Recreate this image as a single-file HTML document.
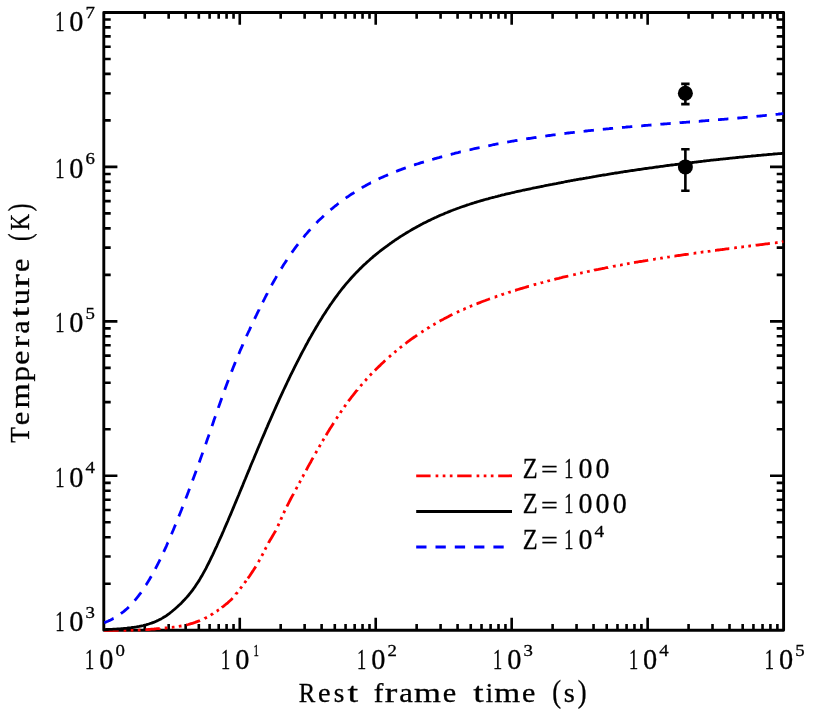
<!DOCTYPE html>
<html><head><meta charset="utf-8"><title>Temperature vs rest frame time</title>
<style>
html,body{margin:0;padding:0;background:#fff;}
body{width:814px;height:719px;overflow:hidden;}
svg{display:block;will-change:transform;}
text{font-family:"Liberation Serif",serif;fill:#000;stroke:#000;stroke-width:0.3px;}
</style></head><body>
<svg width="814" height="719" viewBox="0 0 814 719">
<rect width="814" height="719" fill="#fff"/>
<defs><clipPath id="c"><rect x="103.8" y="12.45" width="679.8000000000001" height="619.4"/></clipPath></defs>
<path d="M144.73,630.25V623.95M144.73,12.45V18.75M168.67,630.25V623.95M168.67,12.45V18.75M185.66,630.25V623.95M185.66,12.45V18.75M198.83,630.25V623.95M198.83,12.45V18.75M209.60,630.25V623.95M209.60,12.45V18.75M218.70,630.25V623.95M218.70,12.45V18.75M226.58,630.25V623.95M226.58,12.45V18.75M233.54,630.25V623.95M233.54,12.45V18.75M239.76,630.25V617.85M239.76,12.45V24.85M280.69,630.25V623.95M280.69,12.45V18.75M304.63,630.25V623.95M304.63,12.45V18.75M321.62,630.25V623.95M321.62,12.45V18.75M334.79,630.25V623.95M334.79,12.45V18.75M345.56,630.25V623.95M345.56,12.45V18.75M354.66,630.25V623.95M354.66,12.45V18.75M362.54,630.25V623.95M362.54,12.45V18.75M369.50,630.25V623.95M369.50,12.45V18.75M375.72,630.25V617.85M375.72,12.45V24.85M416.65,630.25V623.95M416.65,12.45V18.75M440.59,630.25V623.95M440.59,12.45V18.75M457.58,630.25V623.95M457.58,12.45V18.75M470.75,630.25V623.95M470.75,12.45V18.75M481.52,630.25V623.95M481.52,12.45V18.75M490.62,630.25V623.95M490.62,12.45V18.75M498.50,630.25V623.95M498.50,12.45V18.75M505.46,630.25V623.95M505.46,12.45V18.75M511.68,630.25V617.85M511.68,12.45V24.85M552.61,630.25V623.95M552.61,12.45V18.75M576.55,630.25V623.95M576.55,12.45V18.75M593.54,630.25V623.95M593.54,12.45V18.75M606.71,630.25V623.95M606.71,12.45V18.75M617.48,630.25V623.95M617.48,12.45V18.75M626.58,630.25V623.95M626.58,12.45V18.75M634.46,630.25V623.95M634.46,12.45V18.75M641.42,630.25V623.95M641.42,12.45V18.75M647.64,630.25V617.85M647.64,12.45V24.85M688.57,630.25V623.95M688.57,12.45V18.75M712.51,630.25V623.95M712.51,12.45V18.75M729.50,630.25V623.95M729.50,12.45V18.75M742.67,630.25V623.95M742.67,12.45V18.75M753.44,630.25V623.95M753.44,12.45V18.75M762.54,630.25V623.95M762.54,12.45V18.75M770.42,630.25V623.95M770.42,12.45V18.75M777.38,630.25V623.95M777.38,12.45V18.75M103.8,583.76H110.70M783.6,583.76H776.70M103.8,556.56H110.70M783.6,556.56H776.70M103.8,537.26H110.70M783.6,537.26H776.70M103.8,522.29H110.70M783.6,522.29H776.70M103.8,510.06H110.70M783.6,510.06H776.70M103.8,499.72H110.70M783.6,499.72H776.70M103.8,490.77H110.70M783.6,490.77H776.70M103.8,482.87H110.70M783.6,482.87H776.70M103.8,475.80H117.40M783.6,475.80H770.00M103.8,429.31H110.70M783.6,429.31H776.70M103.8,402.11H110.70M783.6,402.11H776.70M103.8,382.81H110.70M783.6,382.81H776.70M103.8,367.84H110.70M783.6,367.84H776.70M103.8,355.61H110.70M783.6,355.61H776.70M103.8,345.27H110.70M783.6,345.27H776.70M103.8,336.32H110.70M783.6,336.32H776.70M103.8,328.42H110.70M783.6,328.42H776.70M103.8,321.35H117.40M783.6,321.35H770.00M103.8,274.86H110.70M783.6,274.86H776.70M103.8,247.66H110.70M783.6,247.66H776.70M103.8,228.36H110.70M783.6,228.36H776.70M103.8,213.39H110.70M783.6,213.39H776.70M103.8,201.16H110.70M783.6,201.16H776.70M103.8,190.82H110.70M783.6,190.82H776.70M103.8,181.87H110.70M783.6,181.87H776.70M103.8,173.97H110.70M783.6,173.97H776.70M103.8,166.90H117.40M783.6,166.90H770.00M103.8,120.41H110.70M783.6,120.41H776.70M103.8,93.21H110.70M783.6,93.21H776.70M103.8,73.91H110.70M783.6,73.91H776.70M103.8,58.94H110.70M783.6,58.94H776.70M103.8,46.71H110.70M783.6,46.71H776.70M103.8,36.37H110.70M783.6,36.37H776.70M103.8,27.42H110.70M783.6,27.42H776.70M103.8,19.52H110.70M783.6,19.52H776.70" stroke="#000" stroke-width="2.6" fill="none"/>
<rect x="103.8" y="12.45" width="679.8000000000001" height="617.8" fill="none" stroke="#000" stroke-width="2.9" stroke-linejoin="round"/>
<g clip-path="url(#c)" fill="none" stroke-width="2.8" stroke-linejoin="round">
<path d="M104.2,630.7L105.2,630.7L106.5,630.7L107.9,630.7L109.2,630.7L110.6,630.7L112.0,630.7L113.3,630.7L114.7,630.6L116.1,630.6L117.4,630.6L118.6,630.6M123.6,630.5L124.2,630.5L125.6,630.5L126.3,630.5M130.7,630.4L131.0,630.4L132.4,630.3L133.4,630.3M137.8,630.1L137.9,630.1L139.2,630.1L140.5,630.0M145.4,629.7L146.0,629.7L147.4,629.6L148.8,629.5L150.1,629.4L151.5,629.2L152.8,629.1L154.2,629.0L155.6,628.8L156.9,628.7L158.3,628.6L159.7,628.5L159.7,628.4M164.7,628.0L165.1,628.0L166.5,627.9L167.4,627.8M171.8,627.4L171.9,627.4L173.3,627.2L174.5,627.1M178.8,626.4L180.1,626.2L181.5,626.0L181.5,626.0M186.3,625.0L186.9,624.8L188.3,624.5L189.6,624.1L191.0,623.7L192.4,623.3L193.7,622.9L195.1,622.4L196.4,621.9L197.8,621.4L199.2,620.9L200.0,620.5M204.5,618.5L204.6,618.4L206.0,617.7L206.9,617.2M210.7,615.1L211.4,614.6L212.8,613.8L213.0,613.6M216.7,611.2L216.9,611.1L218.2,610.1L218.9,609.7M221.8,607.6L222.3,607.1L223.7,606.1L225.0,605.0L226.4,603.9L227.8,602.8L229.1,601.5L230.5,600.3L231.9,598.9L232.6,598.1M235.9,594.3L235.9,594.2L237.3,592.5L237.5,592.2M240.2,588.7L241.4,587.1L241.8,586.5M244.5,583.0L245.5,581.7L246.1,580.8M247.8,578.4L248.2,577.9L249.6,576.0L250.9,574.0L252.3,571.9L253.7,569.8L255.0,567.7L255.8,566.4M258.4,562.1L259.1,560.8L259.7,559.8M261.8,555.9L261.8,555.9L263.1,553.5M265.0,549.6L265.9,547.9L266.3,547.2M268.5,543.0L268.6,542.7L270.0,540.3L271.4,538.0L272.7,535.8L274.1,533.4L275.5,531.0L275.7,530.6M277.9,526.1L278.2,525.4L279.0,523.6M280.8,519.6L280.9,519.3L281.9,517.1M283.7,513.1L284.8,510.7M286.9,506.5L287.7,504.8L289.1,502.1L290.4,499.5L291.8,496.9L293.2,494.4L293.5,493.7M295.9,489.3L297.2,486.9M299.3,483.0L300.0,481.7L300.5,480.7M302.6,476.8L302.7,476.7L303.9,474.4M306.2,470.3L306.8,469.1L308.1,466.6L309.5,464.1L310.9,461.7L312.2,459.2L313.1,457.7M315.6,453.3L316.3,451.9L316.9,451.0M319.1,447.1L320.4,444.8L320.4,444.8M322.6,441.0L323.1,440.1L324.0,438.7M326.1,435.2L327.2,433.3L328.6,431.1L329.9,428.8L331.3,426.7L332.7,424.5L333.6,423.0M336.3,418.8L336.8,418.1L337.8,416.5M340.3,412.9L340.8,412.0L341.8,410.6M344.3,407.0L344.9,406.1L345.8,404.8M348.4,401.3L349.0,400.4L350.4,398.6L351.7,396.8L353.1,395.1L354.5,393.3L355.8,391.6L357.2,390.0L357.2,389.9M360.4,386.1L361.3,385.1L362.2,384.1M365.1,380.8L365.4,380.5L366.7,379.0L366.9,378.8M369.9,375.5L370.8,374.6L371.8,373.6M374.9,370.4L374.9,370.4L376.3,369.0L377.6,367.7L379.0,366.4L380.4,365.1L381.7,363.8L383.1,362.5L384.4,361.2L385.3,360.5M389.0,357.1L389.9,356.3L391.0,355.3M394.4,352.5L395.3,351.7L396.4,350.8M399.8,348.0L400.8,347.2L402.0,346.3M405.4,343.6L406.2,343.0L407.6,341.9L409.0,340.9L410.3,339.9L411.7,338.9L413.0,338.0L414.4,337.0L415.8,336.1L417.1,335.1M421.3,332.3L422.6,331.5L423.5,330.9M427.2,328.5L428.0,328.0L429.4,327.2L429.5,327.1M433.3,324.8L433.5,324.7L434.8,323.9L435.6,323.5M439.6,321.2L440.3,320.8L441.7,320.1L443.0,319.4L444.4,318.6L445.7,317.9L447.1,317.2L448.5,316.5L449.8,315.8L451.2,315.1L452.4,314.5M456.9,312.4L458.0,311.8L459.3,311.2M463.3,309.4L463.5,309.4L464.8,308.7L465.8,308.3M469.8,306.6L470.3,306.4L471.6,305.8L472.3,305.6M476.5,303.8L477.1,303.6L478.4,303.1L479.8,302.6L481.2,302.0L482.5,301.5L483.9,301.0L485.3,300.5L486.6,300.0L488.0,299.5L489.3,299.0L490.0,298.8M494.7,297.1L494.8,297.1L496.1,296.6L497.3,296.2M501.4,294.8L501.6,294.7L503.0,294.3L504.0,293.9M508.2,292.6L508.4,292.5L509.8,292.1L510.8,291.8M515.1,290.4L515.2,290.4L516.6,289.9L517.9,289.5L519.3,289.1L520.7,288.7L522.0,288.3L523.4,287.9L524.8,287.5L526.1,287.1L527.5,286.7L528.8,286.3L528.9,286.3M533.7,284.9L534.3,284.7L535.7,284.3L536.3,284.2M540.6,283.0L541.1,282.8L542.5,282.5L543.2,282.3M547.4,281.2L547.9,281.0L549.3,280.7L550.0,280.5M554.3,279.4L554.7,279.3L556.1,278.9L557.5,278.6L558.8,278.3L560.2,277.9L561.5,277.6L562.9,277.2L564.3,276.9L565.6,276.6L567.0,276.3L568.3,276.0M573.2,274.8L573.8,274.7L575.2,274.4L575.8,274.2M580.1,273.2L580.6,273.1L582.0,272.8L582.7,272.7M587.0,271.7L587.4,271.6L588.8,271.4L589.7,271.2M594.0,270.3L594.2,270.2L595.6,269.9L597.0,269.6L598.3,269.4L599.7,269.1L601.0,268.8L602.4,268.5L603.8,268.3L605.1,268.0L606.5,267.7L607.9,267.5L608.1,267.4M613.0,266.5L613.3,266.4L614.7,266.1L615.7,266.0M620.0,265.1L620.1,265.1L621.5,264.9L622.7,264.7M627.0,263.9L628.3,263.6L629.6,263.4M634.0,262.6L635.1,262.4L636.5,262.2L637.8,262.0L639.2,261.7L640.6,261.5L641.9,261.3L643.3,261.0L644.6,260.8L646.0,260.6L647.4,260.4L648.2,260.2M653.1,259.4L654.2,259.3L655.5,259.0L655.8,259.0M660.2,258.3L661.0,258.2L662.4,258.0L662.8,257.9M667.2,257.2L667.8,257.1L669.2,256.9L669.8,256.8M674.4,256.1L674.6,256.1L676.0,255.9L677.3,255.7L678.7,255.5L680.1,255.3L681.4,255.1L682.8,254.9L684.2,254.7L685.5,254.5L686.9,254.3L688.2,254.1L688.7,254.0M693.6,253.3L693.7,253.3L695.0,253.1L696.3,253.0M700.7,252.4L701.9,252.2L703.2,252.0L703.4,252.0M707.7,251.4L708.7,251.3L710.0,251.1L710.4,251.0M715.0,250.4L715.5,250.4L716.8,250.2L718.2,250.0L719.6,249.8L720.9,249.6L722.3,249.5L723.7,249.3L725.0,249.1L726.4,248.9L727.7,248.8L729.1,248.6L729.3,248.6M734.2,247.9L734.6,247.9L735.9,247.7L736.9,247.6M741.3,247.0L741.4,247.0L742.7,246.8L744.0,246.7M748.3,246.1L749.5,246.0L750.9,245.8L751.0,245.8M755.6,245.2L756.4,245.1L757.7,245.0L759.1,244.8L760.4,244.6L761.8,244.5L763.2,244.3L764.5,244.1L765.9,243.9L767.3,243.8L768.6,243.6L769.9,243.4M774.9,242.8L775.4,242.8L776.8,242.6L777.6,242.5M781.9,242.0L782.2,241.9L783.6,241.7" stroke="#ff0000"/>
<path d="M104.2,622.7L105.2,622.4L106.5,621.8L107.9,621.2L109.2,620.6L110.6,620.0L112.0,619.3L113.3,618.5L113.6,618.4M120.9,613.7L121.5,613.2L122.9,612.2L124.2,611.1L125.6,609.9L127.0,608.7L128.3,607.4L128.8,606.9M134.7,600.6L135.1,600.1L136.5,598.4L137.9,596.7L139.2,594.9L140.6,593.1L141.1,592.4M145.9,585.1L146.0,585.0L147.4,582.8L148.8,580.6L150.1,578.3L151.3,576.2M155.4,568.8L155.6,568.4L156.9,565.8L158.3,563.1L159.7,560.3L160.1,559.5M163.7,551.8L163.7,551.8L165.1,548.8L166.5,545.8L167.8,542.7L168.0,542.4M171.5,534.2L171.9,533.3L173.3,530.0L174.6,526.8L175.5,524.6M178.8,516.4L180.1,513.3L181.5,509.8L182.6,506.8M185.8,498.5L186.9,495.7L188.3,492.1L189.5,488.8M192.6,480.5L193.7,477.5L195.1,473.8L196.2,470.7M199.2,462.4L200.5,458.8L201.9,454.9L202.7,452.6M205.7,444.3L206.0,443.4L207.3,439.5L208.7,435.6L209.1,434.5M212.0,426.1L212.8,423.8L214.1,419.8L215.4,416.3M218.3,407.9L219.6,404.2L221.0,400.3L221.8,398.1M224.8,389.8L225.0,389.0L226.4,385.3L227.8,381.6L228.4,380.0M231.5,371.8L231.9,370.9L233.2,367.5L234.6,364.1L235.4,362.1M238.8,353.9L240.0,350.9L241.4,347.8L242.8,344.7L242.9,344.4M246.5,336.3L246.8,335.5L248.2,332.5L249.6,329.6L250.8,326.8M254.6,318.9L255.0,318.0L256.4,315.2L257.7,312.4L259.1,309.6L259.1,309.5M262.7,302.3L263.2,301.4L264.6,298.7L265.9,296.0L267.3,293.4L267.4,293.1M271.6,285.3L272.7,283.2L274.1,280.8L275.5,278.4L276.7,276.2M281.2,268.6L282.3,267.0L283.6,264.8L285.0,262.7L286.4,260.6L286.8,259.9M291.8,252.6L293.2,250.7L294.5,248.8L295.9,246.9L297.3,245.1L298.0,244.2M303.5,237.3L304.1,236.6L305.4,234.9L306.8,233.4L308.1,231.8L309.5,230.3L310.3,229.4M316.4,223.0L317.7,221.6L319.0,220.3L320.4,219.0L321.8,217.7L323.1,216.4L323.8,215.7M330.5,209.9L331.3,209.2L332.7,208.1L334.0,207.0L335.4,205.9L336.8,204.8L338.1,203.7L338.6,203.4M345.7,198.1L346.3,197.7L347.7,196.8L349.0,195.9L350.4,194.9L351.7,194.0L353.1,193.2L354.4,192.4M361.8,187.9L362.6,187.3L364.0,186.6L365.4,185.8L366.7,185.0L368.1,184.3L369.5,183.6L370.8,182.8L370.9,182.8M378.6,179.0L379.0,178.8L380.4,178.1L381.7,177.5L383.1,176.9L384.4,176.3L385.8,175.7L387.2,175.1L388.1,174.7M396.1,171.4L396.7,171.2L398.1,170.6L399.4,170.1L400.8,169.6L402.1,169.1L403.5,168.6L404.9,168.1L405.8,167.8M414.0,165.0L414.4,164.9L415.8,164.4L417.1,164.0L418.5,163.6L419.9,163.1L421.2,162.7L422.6,162.3L423.9,161.9M432.2,159.4L433.5,159.1L434.8,158.7L436.2,158.3L437.6,157.9L438.9,157.6L440.3,157.2L441.7,156.8L442.2,156.7M450.7,154.4L451.2,154.3L452.6,153.9L453.9,153.6L455.3,153.2L456.6,152.9L458.0,152.6L459.4,152.2L460.7,151.9L460.8,151.9M469.5,149.8L470.3,149.7L471.6,149.4L473.0,149.0L474.4,148.7L475.7,148.4L477.1,148.1L478.4,147.8L479.6,147.6M488.3,145.8L489.3,145.6L490.7,145.3L492.1,145.0L493.4,144.7L494.8,144.5L496.1,144.2L497.5,143.9L498.5,143.8M507.2,142.1L508.4,141.9L509.8,141.7L511.1,141.4L512.5,141.2L513.9,141.0L515.2,140.7L516.6,140.5L517.5,140.3M526.2,138.9L527.5,138.7L528.8,138.5L530.2,138.3L531.6,138.1L532.9,137.9L534.3,137.7L535.7,137.5L536.5,137.3M545.3,136.1L546.6,135.9L547.9,135.7L549.3,135.5L550.6,135.3L552.0,135.1L553.4,134.9L554.7,134.8L555.6,134.7M564.4,133.5L565.6,133.4L567.0,133.2L568.4,133.0L569.7,132.9L571.1,132.7L572.4,132.6L573.8,132.4L574.8,132.3M583.6,131.3L584.7,131.2L586.1,131.0L587.4,130.9L588.8,130.7L590.1,130.6L591.5,130.4L592.9,130.3L593.9,130.2M602.8,129.3L603.8,129.2L605.1,129.1L606.5,128.9L607.9,128.8L609.2,128.7L610.6,128.5L611.9,128.4L613.1,128.3M622.0,127.5L622.8,127.4L624.2,127.3L625.6,127.2L626.9,127.0L628.3,126.9L629.7,126.8L631.0,126.7L632.3,126.6M641.2,125.8L641.9,125.8L643.3,125.6L644.6,125.5L646.0,125.4L647.4,125.3L648.7,125.2L650.1,125.1L651.5,125.0L651.5,125.0M660.4,124.3L661.0,124.2L662.4,124.1L663.7,124.0L665.1,123.9L666.4,123.8L667.8,123.7L669.2,123.6L670.5,123.5L670.7,123.5M679.6,122.8L680.1,122.7L681.4,122.6L682.8,122.5L684.2,122.4L685.5,122.3L686.9,122.2L688.2,122.1L689.6,122.0L690.0,122.0M698.8,121.3L699.1,121.3L700.5,121.1L701.9,121.0L703.2,120.9L704.6,120.8L705.9,120.7L707.3,120.6L708.7,120.5L709.2,120.5M718.0,119.7L718.2,119.7L719.6,119.6L720.9,119.5L722.3,119.4L723.7,119.3L725.0,119.2L726.4,119.1L727.7,118.9L728.4,118.9M737.3,118.1L737.3,118.1L738.6,118.0L740.0,117.9L741.4,117.8L742.7,117.6L744.1,117.5L745.5,117.4L746.8,117.3L747.6,117.2M756.5,116.4L757.7,116.2L759.1,116.1L760.4,116.0L761.8,115.9L763.2,115.7L764.5,115.6L765.9,115.4L766.8,115.4M775.6,114.4L776.8,114.3L778.2,114.2L779.5,114.0L780.9,113.9L782.2,113.7L783.6,113.6" stroke="#0000ff"/>
<path d="M103.8,629.6 L105.2,629.6 L106.5,629.5 L107.9,629.5 L109.2,629.4 L110.6,629.3 L112.0,629.3 L113.3,629.2 L114.7,629.1 L116.1,629.1 L117.4,629.0 L118.8,628.9 L120.1,628.8 L121.5,628.7 L122.9,628.6 L124.2,628.4 L125.6,628.3 L127.0,628.2 L128.3,628.0 L129.7,627.8 L131.0,627.7 L132.4,627.5 L133.8,627.3 L135.1,627.1 L136.5,626.9 L137.9,626.6 L139.2,626.4 L140.6,626.1 L141.9,625.8 L143.3,625.5 L144.7,625.1 L146.0,624.8 L147.4,624.4 L148.8,624.0 L150.1,623.5 L151.5,623.1 L152.8,622.6 L154.2,622.1 L155.6,621.5 L156.9,620.9 L158.3,620.3 L159.7,619.6 L161.0,618.9 L162.4,618.1 L163.7,617.3 L165.1,616.5 L166.5,615.6 L167.8,614.6 L169.2,613.6 L170.6,612.5 L171.9,611.5 L173.3,610.3 L174.6,609.2 L176.0,608.0 L177.4,606.8 L178.7,605.5 L180.1,604.3 L181.5,602.9 L182.8,601.5 L184.2,600.1 L185.5,598.6 L186.9,597.1 L188.3,595.5 L189.6,593.9 L191.0,592.2 L192.4,590.4 L193.7,588.5 L195.1,586.6 L196.4,584.6 L197.8,582.5 L199.2,580.4 L200.5,578.1 L201.9,575.8 L203.2,573.4 L204.6,570.9 L206.0,568.3 L207.3,565.7 L208.7,563.0 L210.1,560.2 L211.4,557.4 L212.8,554.6 L214.1,551.7 L215.5,548.7 L216.9,545.8 L218.2,542.8 L219.6,539.7 L221.0,536.7 L222.3,533.6 L223.7,530.5 L225.0,527.3 L226.4,524.2 L227.8,521.0 L229.1,517.8 L230.5,514.6 L231.9,511.3 L233.2,508.1 L234.6,504.8 L235.9,501.6 L237.3,498.3 L238.7,495.0 L240.0,491.7 L241.4,488.4 L242.8,485.1 L244.1,481.8 L245.5,478.5 L246.8,475.2 L248.2,471.9 L249.6,468.6 L250.9,465.3 L252.3,462.0 L253.7,458.8 L255.0,455.5 L256.4,452.2 L257.7,449.0 L259.1,445.7 L260.5,442.5 L261.8,439.3 L263.2,436.1 L264.6,432.9 L265.9,429.7 L267.3,426.6 L268.6,423.4 L270.0,420.3 L271.4,417.2 L272.7,414.1 L274.1,411.0 L275.5,407.9 L276.8,404.9 L278.2,401.9 L279.5,398.9 L280.9,395.9 L282.3,392.9 L283.6,390.0 L285.0,387.1 L286.4,384.2 L287.7,381.3 L289.1,378.5 L290.4,375.7 L291.8,372.9 L293.2,370.1 L294.5,367.4 L295.9,364.6 L297.3,361.9 L298.6,359.3 L300.0,356.6 L301.3,354.0 L302.7,351.4 L304.1,348.8 L305.4,346.3 L306.8,343.8 L308.1,341.3 L309.5,338.8 L310.9,336.4 L312.2,334.0 L313.6,331.6 L315.0,329.3 L316.3,327.0 L317.7,324.7 L319.0,322.4 L320.4,320.2 L321.8,318.0 L323.1,315.8 L324.5,313.7 L325.9,311.6 L327.2,309.5 L328.6,307.5 L329.9,305.4 L331.3,303.5 L332.7,301.5 L334.0,299.6 L335.4,297.7 L336.8,295.8 L338.1,294.0 L339.5,292.2 L340.8,290.5 L342.2,288.7 L343.6,287.0 L344.9,285.4 L346.3,283.7 L347.7,282.1 L349.0,280.6 L350.4,279.0 L351.7,277.5 L353.1,276.0 L354.5,274.5 L355.8,273.1 L357.2,271.7 L358.6,270.3 L359.9,268.9 L361.3,267.6 L362.6,266.2 L364.0,264.9 L365.4,263.7 L366.7,262.4 L368.1,261.2 L369.5,260.0 L370.8,258.8 L372.2,257.6 L373.5,256.4 L374.9,255.3 L376.3,254.2 L377.6,253.1 L379.0,252.0 L380.4,250.9 L381.7,249.9 L383.1,248.8 L384.4,247.8 L385.8,246.8 L387.2,245.8 L388.5,244.8 L389.9,243.8 L391.3,242.9 L392.6,241.9 L394.0,241.0 L395.3,240.0 L396.7,239.1 L398.1,238.2 L399.4,237.3 L400.8,236.4 L402.1,235.6 L403.5,234.7 L404.9,233.9 L406.2,233.0 L407.6,232.2 L409.0,231.4 L410.3,230.6 L411.7,229.8 L413.0,229.0 L414.4,228.2 L415.8,227.5 L417.1,226.7 L418.5,226.0 L419.9,225.2 L421.2,224.5 L422.6,223.8 L423.9,223.1 L425.3,222.4 L426.7,221.7 L428.0,221.0 L429.4,220.4 L430.8,219.7 L432.1,219.1 L433.5,218.4 L434.8,217.8 L436.2,217.2 L437.6,216.5 L438.9,215.9 L440.3,215.3 L441.7,214.7 L443.0,214.2 L444.4,213.6 L445.7,213.0 L447.1,212.5 L448.5,211.9 L449.8,211.4 L451.2,210.8 L452.6,210.3 L453.9,209.8 L455.3,209.3 L456.6,208.8 L458.0,208.3 L459.4,207.8 L460.7,207.3 L462.1,206.8 L463.5,206.3 L464.8,205.9 L466.2,205.4 L467.5,204.9 L468.9,204.5 L470.3,204.0 L471.6,203.6 L473.0,203.2 L474.4,202.7 L475.7,202.3 L477.1,201.9 L478.4,201.5 L479.8,201.1 L481.2,200.7 L482.5,200.3 L483.9,199.9 L485.3,199.5 L486.6,199.1 L488.0,198.8 L489.3,198.4 L490.7,198.0 L492.1,197.7 L493.4,197.3 L494.8,197.0 L496.1,196.6 L497.5,196.3 L498.9,195.9 L500.2,195.6 L501.6,195.2 L503.0,194.9 L504.3,194.6 L505.7,194.2 L507.0,193.9 L508.4,193.6 L509.8,193.3 L511.1,193.0 L512.5,192.7 L513.9,192.4 L515.2,192.0 L516.6,191.7 L517.9,191.4 L519.3,191.1 L520.7,190.8 L522.0,190.5 L523.4,190.2 L524.8,190.0 L526.1,189.7 L527.5,189.4 L528.8,189.1 L530.2,188.8 L531.6,188.5 L532.9,188.2 L534.3,187.9 L535.7,187.7 L537.0,187.4 L538.4,187.1 L539.7,186.8 L541.1,186.5 L542.5,186.3 L543.8,186.0 L545.2,185.7 L546.6,185.4 L547.9,185.2 L549.3,184.9 L550.6,184.6 L552.0,184.4 L553.4,184.1 L554.7,183.8 L556.1,183.6 L557.5,183.3 L558.8,183.0 L560.2,182.8 L561.5,182.5 L562.9,182.3 L564.3,182.0 L565.6,181.7 L567.0,181.5 L568.4,181.2 L569.7,181.0 L571.1,180.7 L572.4,180.5 L573.8,180.2 L575.2,180.0 L576.5,179.7 L577.9,179.5 L579.3,179.2 L580.6,179.0 L582.0,178.8 L583.3,178.5 L584.7,178.3 L586.1,178.0 L587.4,177.8 L588.8,177.6 L590.1,177.3 L591.5,177.1 L592.9,176.8 L594.2,176.6 L595.6,176.4 L597.0,176.1 L598.3,175.9 L599.7,175.7 L601.0,175.5 L602.4,175.2 L603.8,175.0 L605.1,174.8 L606.5,174.6 L607.9,174.3 L609.2,174.1 L610.6,173.9 L611.9,173.7 L613.3,173.5 L614.7,173.2 L616.0,173.0 L617.4,172.8 L618.8,172.6 L620.1,172.4 L621.5,172.2 L622.8,172.0 L624.2,171.7 L625.6,171.5 L626.9,171.3 L628.3,171.1 L629.7,170.9 L631.0,170.7 L632.4,170.5 L633.7,170.3 L635.1,170.1 L636.5,169.9 L637.8,169.7 L639.2,169.5 L640.6,169.3 L641.9,169.1 L643.3,168.9 L644.6,168.7 L646.0,168.5 L647.4,168.3 L648.7,168.1 L650.1,167.9 L651.5,167.8 L652.8,167.6 L654.2,167.4 L655.5,167.2 L656.9,167.0 L658.3,166.8 L659.6,166.6 L661.0,166.4 L662.4,166.3 L663.7,166.1 L665.1,165.9 L666.4,165.7 L667.8,165.5 L669.2,165.4 L670.5,165.2 L671.9,165.0 L673.3,164.8 L674.6,164.7 L676.0,164.5 L677.3,164.3 L678.7,164.1 L680.1,164.0 L681.4,163.8 L682.8,163.6 L684.2,163.4 L685.5,163.3 L686.9,163.1 L688.2,162.9 L689.6,162.8 L691.0,162.6 L692.3,162.5 L693.7,162.3 L695.0,162.1 L696.4,162.0 L697.8,161.8 L699.1,161.6 L700.5,161.5 L701.9,161.3 L703.2,161.2 L704.6,161.0 L705.9,160.9 L707.3,160.7 L708.7,160.6 L710.0,160.4 L711.4,160.2 L712.8,160.1 L714.1,159.9 L715.5,159.8 L716.8,159.6 L718.2,159.5 L719.6,159.3 L720.9,159.2 L722.3,159.1 L723.7,158.9 L725.0,158.8 L726.4,158.6 L727.7,158.5 L729.1,158.3 L730.5,158.2 L731.8,158.1 L733.2,157.9 L734.6,157.8 L735.9,157.6 L737.3,157.5 L738.6,157.4 L740.0,157.2 L741.4,157.1 L742.7,157.0 L744.1,156.8 L745.5,156.7 L746.8,156.6 L748.2,156.4 L749.5,156.3 L750.9,156.2 L752.3,156.0 L753.6,155.9 L755.0,155.8 L756.4,155.6 L757.7,155.5 L759.1,155.4 L760.4,155.3 L761.8,155.1 L763.2,155.0 L764.5,154.9 L765.9,154.8 L767.3,154.6 L768.6,154.5 L770.0,154.4 L771.3,154.3 L772.7,154.2 L774.1,154.0 L775.4,153.9 L776.8,153.8 L778.2,153.7 L779.5,153.6 L780.9,153.5 L782.2,153.3 L783.6,153.2" stroke="#000"/>
</g>
<path d="M685.38,83.83V104.11M681.18,83.83H689.58M681.18,104.11H689.58M685.38,149.30V190.82M681.18,149.30H689.58M681.18,190.82H689.58" stroke="#000" stroke-width="2.6" fill="none"/>
<circle cx="685.38" cy="93.21" r="7.5" fill="#000"/>
<circle cx="685.38" cy="166.90" r="7.5" fill="#000"/>
<g>
<text transform="translate(85.05,669.00) scale(0.634,1.0)" font-size="29">1</text><text transform="translate(99.25,669.00) scale(0.979,1.0)" font-size="29">0</text><text transform="translate(115.50,655.70) scale(1.087,1.0)" font-size="17.3">0</text>
<text transform="translate(221.01,669.00) scale(0.634,1.0)" font-size="29">1</text><text transform="translate(235.21,669.00) scale(0.979,1.0)" font-size="29">0</text><text transform="translate(253.46,655.70) scale(0.624,1.0)" font-size="17.3">1</text>
<text transform="translate(356.97,669.00) scale(0.634,1.0)" font-size="29">1</text><text transform="translate(371.17,669.00) scale(0.979,1.0)" font-size="29">0</text><text transform="translate(387.42,655.70) scale(1.087,1.0)" font-size="17.3">2</text>
<text transform="translate(492.93,669.00) scale(0.634,1.0)" font-size="29">1</text><text transform="translate(507.13,669.00) scale(0.979,1.0)" font-size="29">0</text><text transform="translate(523.38,655.70) scale(1.087,1.0)" font-size="17.3">3</text>
<text transform="translate(628.89,669.00) scale(0.634,1.0)" font-size="29">1</text><text transform="translate(643.09,669.00) scale(0.979,1.0)" font-size="29">0</text><text transform="translate(659.34,655.70) scale(1.087,1.0)" font-size="17.3">4</text>
<text transform="translate(764.85,669.00) scale(0.634,1.0)" font-size="29">1</text><text transform="translate(779.05,669.00) scale(0.979,1.0)" font-size="29">0</text><text transform="translate(795.30,655.70) scale(1.087,1.0)" font-size="17.3">5</text>
<text transform="translate(55.15,631.00) scale(0.634,1.0)" font-size="29">1</text><text transform="translate(69.35,631.00) scale(0.979,1.0)" font-size="29">0</text><text transform="translate(85.60,617.70) scale(1.087,1.0)" font-size="17.3">3</text>
<text transform="translate(55.15,486.60) scale(0.634,1.0)" font-size="29">1</text><text transform="translate(69.35,486.60) scale(0.979,1.0)" font-size="29">0</text><text transform="translate(85.60,473.30) scale(1.087,1.0)" font-size="17.3">4</text>
<text transform="translate(55.15,332.15) scale(0.634,1.0)" font-size="29">1</text><text transform="translate(69.35,332.15) scale(0.979,1.0)" font-size="29">0</text><text transform="translate(85.60,318.85) scale(1.087,1.0)" font-size="17.3">5</text>
<text transform="translate(55.15,177.70) scale(0.634,1.0)" font-size="29">1</text><text transform="translate(69.35,177.70) scale(0.979,1.0)" font-size="29">0</text><text transform="translate(85.60,164.40) scale(1.087,1.0)" font-size="17.3">6</text>
<text transform="translate(55.15,30.80) scale(0.634,1.0)" font-size="29">1</text><text transform="translate(69.35,30.80) scale(0.979,1.0)" font-size="29">0</text><text transform="translate(85.60,17.50) scale(1.087,1.0)" font-size="17.3">7</text>
</g>
<g style="stroke-width:0.1px">
<text transform="translate(298.75,701.50) scale(0.883,1.0)" font-size="28.0">R</text>
<text transform="translate(317.95,701.50) scale(1.011,1.0)" font-size="28.0">e</text>
<text transform="translate(333.65,701.50) scale(0.971,1.0)" font-size="28.0">s</text>
<text transform="translate(347.45,701.50) scale(1.364,1.0)" font-size="28.0">t</text>
<text transform="translate(373.75,701.50) scale(1.034,1.0)" font-size="28.0">f</text>
<text transform="translate(384.75,701.50) scale(1.343,1.0)" font-size="28.0">r</text>
<text transform="translate(399.15,701.50) scale(1.091,1.0)" font-size="28.0">a</text>
<text transform="translate(414.05,701.50) scale(1.236,1.0)" font-size="28.0">m</text>
<text transform="translate(442.85,701.50) scale(1.083,1.0)" font-size="28.0">e</text>
<text transform="translate(473.25,701.50) scale(1.338,1.0)" font-size="28.0">t</text>
<text transform="translate(485.65,701.50) scale(0.940,1.0)" font-size="28.0">i</text>
<text transform="translate(494.15,701.50) scale(1.190,1.0)" font-size="28.0">m</text>
<text transform="translate(522.05,701.50) scale(1.075,1.0)" font-size="28.0">e</text>
<text transform="translate(552.25,702.30) scale(0.945,1.15)" font-size="28.0">(</text>
<text transform="translate(563.85,701.50) scale(1.016,1.0)" font-size="28.0">s</text>
<text transform="translate(577.75,702.30) scale(0.945,1.15)" font-size="28.0">)</text>
<text transform="translate(29.20,442.65) rotate(-90) scale(0.913,1.0)" font-size="28.0">T</text>
<text transform="translate(29.20,425.25) rotate(-90) scale(1.083,1.0)" font-size="28.0">e</text>
<text transform="translate(29.20,408.55) rotate(-90) scale(1.162,1.0)" font-size="28.0">m</text>
<text transform="translate(29.20,381.45) rotate(-90) scale(1.114,1.0)" font-size="28.0">p</text>
<text transform="translate(29.20,364.75) rotate(-90) scale(1.140,1.0)" font-size="28.0">e</text>
<text transform="translate(29.20,347.55) rotate(-90) scale(1.235,1.0)" font-size="28.0">r</text>
<text transform="translate(29.20,333.55) rotate(-90) scale(1.027,1.0)" font-size="28.0">a</text>
<text transform="translate(29.20,317.25) rotate(-90) scale(1.300,1.0)" font-size="28.0">t</text>
<text transform="translate(29.20,305.15) rotate(-90) scale(1.164,1.0)" font-size="28.0">u</text>
<text transform="translate(29.20,287.65) rotate(-90) scale(1.450,1.0)" font-size="28.0">r</text>
<text transform="translate(29.20,272.05) rotate(-90) scale(1.075,1.0)" font-size="28.0">e</text>
<text transform="translate(30.00,240.95) rotate(-90) scale(0.816,1.15)" font-size="28.0">(</text>
<text transform="translate(29.20,230.15) rotate(-90) scale(0.806,1.0)" font-size="28.0">K</text>
<text transform="translate(30.00,211.25) rotate(-90) scale(0.816,1.15)" font-size="28.0">)</text>
</g>
<g fill="none" stroke-width="2.8">
<path d="M416.2,475.8H512" stroke="#ff0000" stroke-dasharray="14.4 5 2.7 4.4 2.7 4.4 2.7 4.7"/>
<path d="M416.2,511.5H512" stroke="#000"/>
<path d="M416.2,547H512" stroke="#0000ff" stroke-dasharray="10.3 9"/>
</g>
<g>
<text transform="translate(522.65,477.60) scale(0.842,1.0)" font-size="29">Z</text><text transform="translate(541.05,478.35) scale(1.031,0.85)" font-size="29">=</text><text transform="translate(564.25,477.60) scale(0.628,1.0)" font-size="29">1</text><text transform="translate(578.50,477.60) scale(0.966,1.0)" font-size="29">0</text><text transform="translate(595.60,477.60) scale(0.966,1.0)" font-size="29">0</text><text transform="translate(522.65,513.20) scale(0.842,1.0)" font-size="29">Z</text><text transform="translate(541.05,513.95) scale(1.031,0.85)" font-size="29">=</text><text transform="translate(564.25,513.20) scale(0.628,1.0)" font-size="29">1</text><text transform="translate(578.50,513.20) scale(0.966,1.0)" font-size="29">0</text><text transform="translate(595.60,513.20) scale(0.966,1.0)" font-size="29">0</text><text transform="translate(612.70,513.20) scale(0.966,1.0)" font-size="29">0</text><text transform="translate(522.65,548.60) scale(0.842,1.0)" font-size="29">Z</text><text transform="translate(541.05,549.35) scale(1.031,0.85)" font-size="29">=</text><text transform="translate(564.25,548.60) scale(0.628,1.0)" font-size="29">1</text><text transform="translate(578.50,548.60) scale(0.966,1.0)" font-size="29">0</text><text transform="translate(594.45,537.10) scale(1.110,1.0)" font-size="17.3">4</text>
</g>
</svg>
</body></html>
